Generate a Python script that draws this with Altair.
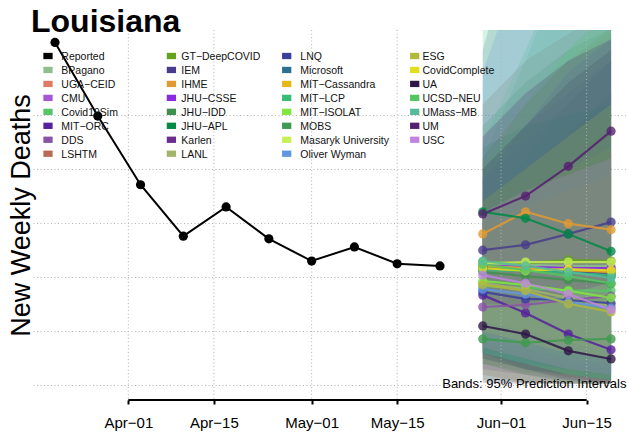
import altair as alt
import pandas as pd

# Observed weekly deaths
reported_dates = ["2020-03-20", "2020-03-27", "2020-04-03", "2020-04-10", "2020-04-17",
                  "2020-04-24", "2020-05-01", "2020-05-08", "2020-05-15", "2020-05-22"]
reported_deaths = [634, 498, 371, 276, 330, 271, 230, 256, 225, 221]

# Forecast target weeks
forecast_dates = ["2020-05-29", "2020-06-05", "2020-06-12", "2020-06-19"]

models = ["BPagano", "UGA\u2212CEID", "CMU", "Covid19Sim", "MIT\u2212ORC", "DDS", "LSHTM",
          "GT\u2212DeepCOVID", "IEM", "IHME", "JHU\u2212CSSE", "JHU\u2212IDD", "JHU\u2212APL", "Karlen", "LANL",
          "LNQ", "Microsoft", "MIT\u2212Cassandra", "MIT\u2212LCP", "MIT\u2212ISOLAT", "MOBS",
          "Masaryk University", "Oliver Wyman",
          "ESG", "CovidComplete", "UA", "UCSD\u2212NEU", "UMass\u2212MB", "UM", "USC"]

model_colors = ["#8fbf8f", "#e07b63", "#a555d5", "#55c865", "#56209e", "#8a52a6", "#b96b55",
                "#64a21e", "#483c8c", "#e09a32", "#8a2be2", "#3f8f4f", "#008a45", "#6b2d8f", "#a2b36a",
                "#3b3f9c", "#2a7090", "#e6b817", "#36bc75", "#7fe83f", "#3e9a4e",
                "#c8ef55", "#6196e0",
                "#b2b83a", "#e0e01f", "#2e1846", "#52c660", "#55bb9a", "#55206f", "#c084e0"]

point_forecasts = [
    [223, 223, 221, 221], [219, 217, 213, 212], [221, 219, 217, 215], [184, 180, 176, 175],
    [167, 134, 95, 66], [145, 149, 158, 165], [215, 213, 212, 210],
    [228, 226, 232, 230], [250, 260, 280, 302], [280, 321, 299, 288], [221, 219, 217, 217],
    [210, 202, 195, 188], [321, 309, 280, 248], [217, 213, 210, 206], [189, 178, 162, 147],
    [173, 160, 158, 152], [219, 215, 210, 202], [221, 217, 213, 210], [213, 212, 208, 204],
    [193, 186, 175, 162], [86, 79, 84, 86], [226, 228, 228, 228], [178, 169, 154, 143],
    [186, 175, 151, 136], [217, 212, 215, 213], [110, 95, 64, 49], [224, 213, 202, 189],
    [230, 221, 210, 199], [317, 350, 405, 470], [204, 189, 169, 140],
]

lower_bounds = [
    [60, 40, 30, 20], [50, 30, 15, 5], [90, 70, 50, 40], [40, 25, 15, 10],
    [60, 30, 10, 3], [30, 20, 10, 5], [20, 5, 3, 3],
    [110, 90, 70, 60], [120, 110, 100, 90], [140, 130, 110, 90], [70, 50, 30, 20],
    [40, 20, 5, 3], [160, 130, 100, 70], [50, 30, 20, 10], [80, 60, 40, 30],
    [60, 40, 30, 20], [80, 60, 40, 20], [120, 100, 80, 60], [50, 30, 20, 10],
    [90, 70, 50, 40], [10, 5, 3, 3], [100, 80, 60, 50], [60, 40, 30, 20],
    [70, 50, 30, 20], [100, 80, 60, 50], [5, 3, 3, 3], [60, 40, 20, 10],
    [60, 40, 20, 10], [150, 150, 170, 190], [70, 50, 30, 20],
]

upper_bounds = [
    [420, 600, 800, 1000], [420, 520, 600, 650], [330, 400, 470, 540], [320, 420, 520, 600],
    [300, 330, 360, 400], [300, 380, 460, 540], [520, 600, 650, 700],
    [330, 400, 470, 540], [380, 450, 520, 600], [420, 520, 600, 660], [380, 480, 580, 640],
    [480, 560, 620, 660], [440, 480, 500, 520], [400, 480, 540, 600], [320, 360, 400, 440],
    [300, 340, 380, 420], [620, 900, 1200, 1500], [320, 360, 400, 440], [760, 900, 1100, 1300],
    [300, 340, 380, 420], [220, 270, 320, 380], [340, 400, 460, 520], [580, 800, 1000, 1200],
    [300, 330, 360, 390], [340, 400, 460, 520], [400, 480, 560, 620], [400, 520, 620, 700],
    [450, 620, 800, 950], [460, 540, 600, 640], [320, 360, 390, 420],
]

tick_dates = ["2020-04-01", "2020-04-15", "2020-05-01", "2020-05-15", "2020-06-01", "2020-06-15"]
grid_levels = [0, 100, 200, 300, 400, 500]

FONT = "Liberation Sans"
W, H = 595, 369

# Legend layout (pixels from the plot's top-left corner): 4 columns of 8, filled column by column
LEG_SYMBOL_X = [15.0, 138.4, 253.7, 381.7]
LEG_TEXT_X = [28.3, 148.3, 267.3, 389.5]
LEG_ROW0, LEG_ROW_STEP, LEG_ROWS = 26.0, 13.96, 8
RECT = "M-1,-0.68L1,-0.68L1,0.68L-1,0.68Z"

# Long-format tables
reported = pd.DataFrame({"date": reported_dates, "deaths": reported_deaths})
rows = []
for k, m in enumerate(models):
    for j, d in enumerate(forecast_dates):
        rows.append({"model": m, "date": d, "value": point_forecasts[k][j],
                     "lower": lower_bounds[k][j], "upper": upper_bounds[k][j], "k": k})
fc = pd.DataFrame(rows)

legend_names = ["Reported"] + models
legend_fill = ["#000000"] + model_colors
leg = pd.DataFrame({"name": legend_names, "fill": legend_fill})
leg["col"] = [i // LEG_ROWS for i in range(len(leg))]
leg["row"] = [i % LEG_ROWS for i in range(len(leg))]
leg["sx"] = [LEG_SYMBOL_X[c] for c in leg["col"]]
leg["tx"] = [LEG_TEXT_X[c] for c in leg["col"]]
leg["sy"] = LEG_ROW0 + leg["row"] * LEG_ROW_STEP
leg["ty"] = leg["sy"] + 3.85

color_scale = alt.Scale(domain=models, range=model_colors)

x_scale = alt.Scale(type="utc",
                    domain=[alt.DateTime(year=2020, month=3, date=16, hours=9, minutes=36, utc=True),
                            alt.DateTime(year=2020, month=6, date=21, hours=18, minutes=30, utc=True)])
y_scale = alt.Scale(domain=[-25, 657], nice=False, zero=False)

x_axis = alt.Axis(values=[alt.DateTime(year=2020, month=int(d[5:7]), date=int(d[8:10]), utc=True) for d in tick_dates],
                  labelExpr="replace(utcFormat(datum.value, '%b-%d'), '-', '\u2212')",
                  grid=False, domain=False, ticks=True, tickSize=4, tickWidth=2, tickColor="black",
                  labelFontSize=15, labelFont=FONT, labelColor="black", labelPadding=11,
                  offset=1, title=None)
y_axis = alt.Axis(values=grid_levels, labels=False, ticks=False, domain=False, grid=True,
                  gridDash=[1, 2.5], gridColor="#b4b4b4", gridWidth=1,
                  title="New Weekly Deaths", titleFont=FONT, titleFontSize=27, titleFontWeight="normal",
                  titleColor="black", titleX=-4, titleY=185, titleAngle=-90, titleAlign="center",
                  titleBaseline="alphabetic")


def X():
    return alt.X("date:T", scale=x_scale, axis=x_axis)


def Y(field):
    return alt.Y(field, scale=y_scale, axis=y_axis)


bands = alt.Chart(fc).mark_area(opacity=0.2, clip=True).encode(
    x=X(), y=Y("lower:Q"), y2="upper:Q",
    color=alt.Color("model:N", scale=color_scale, legend=None),
    order=alt.Order("k:Q", sort="descending"),
)

vgrid = alt.Chart(pd.DataFrame({"date": tick_dates})).mark_rule(
    strokeDash=[1, 2.5], color="#b4b4b4", strokeWidth=1).encode(x=X())

fc_lines = alt.Chart(fc).mark_line(strokeWidth=2.2, opacity=0.85, clip=True).encode(
    x=X(), y=Y("value:Q"),
    color=alt.Color("model:N", scale=color_scale, legend=None),
    detail="model:N",
)
fc_points = alt.Chart(fc).mark_circle(size=85, opacity=0.8, clip=True).encode(
    x=X(), y=Y("value:Q"),
    color=alt.Color("model:N", scale=color_scale, legend=None),
)

rep_line = alt.Chart(reported).mark_line(color="black", strokeWidth=2).encode(x=X(), y=Y("deaths:Q"))
rep_points = alt.Chart(reported).mark_circle(color="black", size=85, opacity=1).encode(x=X(), y=Y("deaths:Q"))

axis_line = alt.Chart(pd.DataFrame({"start": [tick_dates[0]], "end": [tick_dates[-1]]})).mark_rule(
    color="black", strokeWidth=2).encode(
    x=alt.X("start:T", scale=x_scale, axis=x_axis), x2="end:T", y=alt.value(H + 1))

leg_symbols = alt.Chart(leg).mark_point(shape=RECT, filled=True, size=86, opacity=1, strokeWidth=0).encode(
    x=alt.X("sx:Q", scale=None, axis=None), y=alt.Y("sy:Q", scale=None, axis=None),
    color=alt.Color("fill:N", scale=None, legend=None))
leg_labels = alt.Chart(leg).mark_text(align="left", baseline="alphabetic", font=FONT, fontSize=10.5,
                                      color="#111111").encode(
    x=alt.X("tx:Q", scale=None, axis=None), y=alt.Y("ty:Q", scale=None, axis=None), text="name:N")

title = alt.Chart(pd.DataFrame({"t": ["Louisiana"]})).mark_text(
    align="left", baseline="alphabetic", font=FONT, fontSize=32, fontWeight="bold", color="black").encode(
    x=alt.value(-2), y=alt.value(2), text="t:N")

note = alt.Chart(pd.DataFrame({"t": ["Bands: 95% Prediction Intervals"]})).mark_text(
    align="right", baseline="alphabetic", font=FONT, fontSize=13, color="black").encode(
    x=alt.value(593.5), y=alt.value(358), text="t:N")

chart = alt.layer(bands, vgrid, fc_lines, fc_points, rep_line, rep_points, axis_line,
                  leg_symbols, leg_labels, title, note).properties(
    width=W, height=H,
    autosize=alt.AutoSizeParams(type="none"),
    padding={"left": 33, "top": 30, "right": 0, "bottom": 36},
    background="white",
).configure_view(stroke=None)

chart.save("out.html", embed_options={"renderer": "svg", "actions": False})
